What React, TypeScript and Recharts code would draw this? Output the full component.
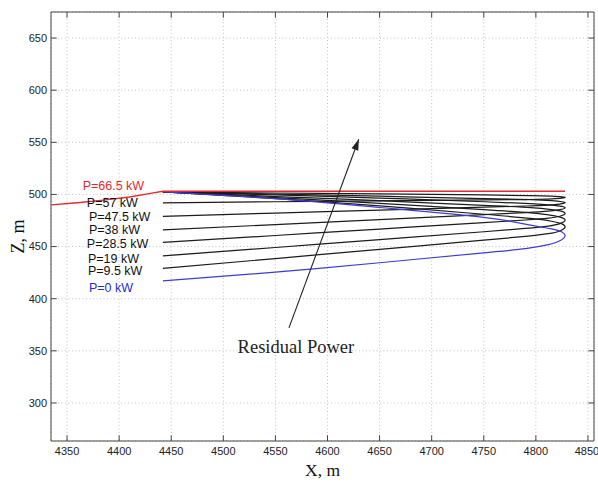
import React from 'react';
import { LineChart, Line, XAxis, YAxis, CartesianGrid, ReferenceArea, ReferenceDot, ReferenceLine, Label } from 'recharts';

const xTicks = [4350, 4400, 4450, 4500, 4550, 4600, 4650, 4700, 4750, 4800, 4850];
const zTicks = [300, 350, 400, 450, 500, 550, 600, 650];

// trajectories, [x, z] in metres
const pathP0 = [[4442, 417], [4550, 425.5], [4650, 434.5], [4750, 444], [4790, 448], [4812, 451.8], [4823, 455.5], [4828, 460], [4825, 464], [4815, 467], [4795, 470.5], [4750, 478], [4650, 487.5], [4550, 496], [4442, 502.5]];
const pathP9 = [[4442, 429], [4550, 438.5], [4650, 447.3], [4750, 456.1], [4790, 459.8], [4812, 462.4], [4823, 465], [4828, 468.5], [4825, 471.8], [4815, 474.3], [4795, 477], [4750, 481], [4650, 489], [4550, 496], [4442, 502.5]];
const pathP19 = [[4442, 441], [4550, 449.1], [4650, 456.7], [4750, 464.2], [4790, 467.4], [4812, 469.7], [4823, 472], [4828, 475], [4825, 477.8], [4815, 480], [4795, 482.3], [4750, 485.5], [4650, 491.5], [4550, 497], [4442, 502.5]];
const pathP28 = [[4442, 454], [4550, 460.6], [4650, 466.8], [4750, 472.9], [4790, 475.5], [4812, 477.3], [4823, 479.1], [4828, 481.5], [4825, 483.7], [4815, 485.4], [4795, 487.3], [4750, 489.5], [4650, 494], [4550, 498], [4442, 502.5]];
const pathP38 = [[4442, 466], [4550, 471.1], [4650, 475.9], [4750, 480.6], [4790, 482.6], [4812, 484], [4823, 485.4], [4828, 487], [4825, 488.5], [4815, 489.8], [4795, 491.2], [4750, 493], [4650, 496.5], [4550, 499.5], [4442, 502.5]];
const pathP47 = [[4442, 479], [4550, 482.1], [4650, 484.9], [4750, 487.8], [4790, 488.9], [4812, 489.8], [4823, 490.8], [4828, 492], [4825, 493], [4815, 494], [4795, 495], [4750, 496], [4650, 498.3], [4550, 500.3], [4442, 502.5]];
const pathP57 = [[4442, 492], [4550, 493], [4650, 493.9], [4750, 494.7], [4790, 495.1], [4812, 495.6], [4823, 496.2], [4828, 497], [4825, 497.7], [4815, 498.3], [4795, 498.9], [4750, 499.5], [4650, 500.6], [4550, 501.4], [4442, 502.5]];
const pathP66 = [[4335, 490], [4360, 492], [4385, 494.5], [4410, 497.5], [4430, 501], [4442, 503], [4828, 503]];
const arrowPath = [[4563, 372], [4630, 553]];

const powerLabels = ['P=66.5 kW', 'P=57 kW', 'P=47.5 kW', 'P=38 kW', 'P=28.5 kW', 'P=19 kW', 'P=9.5 kW', 'P=0 kW'];
const labelAt = [[4365, 509], [4369, 492], [4371, 479.3], [4371, 466], [4369, 452.5], [4370, 439], [4370, 426.6], [4371, 410.3]];
const labelColor = ['#e8262a', '#111', '#111', '#111', '#111', '#111', '#111', '#2a2ad0'];

const X_MIN = 4334.6;
const X_MAX = 4855.8;
const Z_MIN = 263.5;
const Z_MAX = 675;

const toPts = (p: number[][]) => p.map(([x, z]) => ({ x, z }));

const sans = 'Liberation Sans, Arial, Helvetica, sans-serif';
const serif = 'Liberation Serif, Times New Roman, serif';

const blackPaths = [pathP57, pathP47, pathP38, pathP28, pathP19, pathP9];

export default function App() {
  return (
    <div style={{ position: 'absolute', left: 0, top: 0, background: '#fff' }}>
      <LineChart width={598} height={484} margin={{ top: 12, right: 4, bottom: 0, left: 0 }}>
        <CartesianGrid stroke="#c4c4c4" strokeDasharray="1 2.5" />
        <XAxis
          dataKey="x"
          type="number"
          domain={[X_MIN, X_MAX]}
          ticks={xTicks}
          allowDataOverflow
          height={43}
          tickLine={false}
          tickSize={0}
          tickMargin={6}
          axisLine={false}
          tick={{ fontSize: 11, fill: '#222', fontFamily: sans }}
          label={
            <Label
              content={({ viewBox }: any) => (
                <text x={viewBox.x + viewBox.width / 2} y={viewBox.y + 35} textAnchor="middle" fontFamily={serif} fontSize={17.5} fill="#111">
                  X, m
                </text>
              )}
            />
          }
        />
        <YAxis
          type="number"
          domain={[Z_MIN, Z_MAX]}
          ticks={zTicks}
          allowDataOverflow
          width={51}
          tickLine={false}
          tickSize={0}
          tickMargin={4}
          axisLine={false}
          tick={{ fontSize: 11, fill: '#222', fontFamily: sans }}
          label={
            <Label
              content={({ viewBox }: any) => {
                const cx = viewBox.x + viewBox.width - 27;
                const cy = viewBox.y + viewBox.height / 2 + 10;
                return (
                  <text x={cx} y={cy} transform={`rotate(-90, ${cx}, ${cy})`} textAnchor="middle" fontFamily={serif} fontSize={18} fill="#111">
                    Z, m
                  </text>
                );
              }}
            />
          }
        />

        {xTicks.map((t) => (
          <ReferenceLine key={'xb' + t} segment={[{ x: t, y: Z_MIN }, { x: t, y: Z_MIN + 5.5 }]} stroke="#444" />
        ))}
        {xTicks.map((t) => (
          <ReferenceLine key={'xt' + t} segment={[{ x: t, y: Z_MAX }, { x: t, y: Z_MAX - 5.5 }]} stroke="#444" />
        ))}
        {zTicks.map((t) => (
          <ReferenceLine key={'yl' + t} segment={[{ x: X_MIN, y: t }, { x: X_MIN + 5.5, y: t }]} stroke="#444" />
        ))}
        {zTicks.map((t) => (
          <ReferenceLine key={'yr' + t} segment={[{ x: X_MAX, y: t }, { x: X_MAX - 5.5, y: t }]} stroke="#444" />
        ))}

        {blackPaths.map((p, i) => (
          <Line key={'b' + i} data={toPts(p)} dataKey="z" type="natural" stroke="#1c1c1c" strokeWidth={1.2} dot={false} isAnimationActive={false} />
        ))}
        <Line data={toPts(pathP0)} dataKey="z" type="natural" stroke="#3b3bd6" strokeWidth={1.2} dot={false} isAnimationActive={false} />
        <Line data={toPts(pathP66)} dataKey="z" type="linear" stroke="#e02a2e" strokeWidth={1.4} dot={false} isAnimationActive={false} />

        <Line
          data={toPts(arrowPath)}
          dataKey="z"
          type="linear"
          stroke="#222"
          strokeWidth={1.1}
          isAnimationActive={false}
          dot={(p: any) =>
            p.index === 1 ? (
              <polygon key="head" points="0,0 -11,-3.6 -11,3.6" fill="#222" transform={`translate(${p.cx}, ${p.cy}) rotate(-69.7)`} />
            ) : (
              <g key={'d' + p.index} />
            )
          }
        />

        {powerLabels.map((s, i) => (
          <ReferenceDot
            key={s}
            x={labelAt[i][0]}
            y={labelAt[i][1]}
            r={0}
            shape={(p: any) => (
              <text x={p.cx} y={p.cy} dy="0.36em" fontFamily={sans} fontSize={12.5} fill={labelColor[i]}>
                {s}
              </text>
            )}
          />
        ))}
        <ReferenceDot
          x={4569.7}
          y={353.7}
          r={0}
          shape={(p: any) => (
            <text x={p.cx} y={p.cy} dy="0.35em" textAnchor="middle" fontFamily={serif} fontSize={18.5} fill="#222">
              Residual Power
            </text>
          )}
        />

        <ReferenceArea x1={X_MIN} x2={X_MAX} y1={Z_MIN} y2={Z_MAX} fill="none" stroke="#444" strokeWidth={1} />
      </LineChart>
    </div>
  );
}
